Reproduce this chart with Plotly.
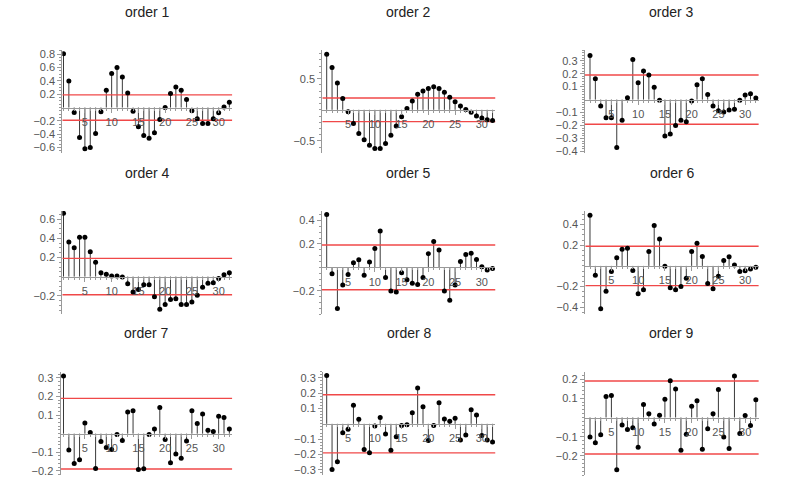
import numpy as np
import plotly.graph_objects as go

lags = list(range(1, 33))

order1 = [0.81, 0.40, -0.075, -0.45, -0.62, -0.60, -0.39, -0.065, 0.26, 0.51, 0.60, 0.46, 0.22, -0.055, -0.29, -0.42,
          -0.46, -0.38, -0.18, 0.0, 0.21, 0.31, 0.26, 0.12, -0.05, -0.17, -0.24, -0.24, -0.17, -0.08, 0.01, 0.08]
order2 = [0.89, 0.68, 0.43, 0.18, -0.03, -0.22, -0.38, -0.48, -0.57, -0.62, -0.62, -0.54, -0.41, -0.26, -0.11, 0.02,
          0.14, 0.25, 0.30, 0.34, 0.37, 0.34, 0.28, 0.20, 0.13, 0.06, 0.005, -0.04, -0.10, -0.13, -0.16, -0.17]
order3 = [0.34, 0.16, -0.05, -0.14, -0.14, -0.37, -0.16, 0.015, 0.31, 0.13, 0.22, 0.19, 0.095, -0.005, -0.28, -0.265,
          -0.20, -0.16, -0.17, -0.01, 0.115, 0.16, 0.04, -0.05, -0.085, -0.095, -0.08, -0.075, -0.005, 0.035, 0.045, 0.012]
order4 = [0.66, 0.36, 0.30, 0.41, 0.41, 0.26, 0.15, 0.04, 0.025, 0.005, 0.007, -0.003, -0.075, -0.16, -0.135, -0.085,
          -0.085, -0.21, -0.34, -0.29, -0.24, -0.23, -0.29, -0.29, -0.265, -0.195, -0.11, -0.07, -0.065, -0.02, 0.02, 0.04]
order5 = [0.45, -0.053, -0.35, -0.15, -0.06, 0.04, 0.065, -0.067, 0.047, 0.16, 0.31, -0.085, -0.20, -0.21, -0.045, -0.105,
          -0.135, -0.145, -0.085, 0.117, 0.22, 0.148, -0.20, -0.28, -0.15, 0.05, 0.11, 0.12, 0.067, 0.005, -0.022, -0.01]
order6 = [0.49, -0.09, -0.415, -0.245, -0.053, 0.08, 0.16, 0.17, -0.044, -0.27, -0.23, 0.14, 0.39, 0.26, -0.003, -0.21,
          -0.23, -0.20, -0.12, 0.14, 0.22, 0.09, -0.17, -0.22, -0.10, 0.053, 0.088, 0.01, -0.053, -0.047, -0.031, -0.012]
order7 = [0.31, -0.088, -0.16, -0.14, 0.058, 0.007, -0.187, -0.042, -0.074, -0.085, -0.004, -0.037, 0.117, 0.124, -0.193, -0.189,
          -0.005, 0.025, 0.141, -0.032, -0.157, -0.11, -0.132, -0.039, 0.124, 0.055, 0.106, 0.018, 0.012, 0.094, 0.087, 0.025]
order8 = [0.315, -0.298, -0.247, -0.058, -0.036, 0.122, 0.03, -0.167, -0.189, -0.015, 0.041, -0.067, -0.172, -0.084, -0.011, -0.006,
          0.073, 0.234, 0.112, -0.109, -0.011, 0.137, 0.032, 0.017, 0.036, -0.105, -0.073, 0.092, 0.058, -0.077, -0.105, -0.118]
order9 = [-0.102, -0.131, -0.09, 0.11, 0.114, -0.272, -0.039, -0.063, -0.053, -0.155, 0.068, 0.019, -0.034, 0.012, 0.095, 0.192,
          0.148, -0.17, -0.087, 0.058, 0.087, -0.165, -0.059, 0.02, 0.146, -0.102, -0.161, 0.216, -0.083, 0.01, -0.042, 0.092]

orders = [order1, order2, order3, order4, order5, order6, order7, order8, order9]
titles = ["order %d" % i for i in range(1, 10)]
conf_band = 0.19

x_ticks = [5, 10, 15, 20, 25, 30]
y_ticks = [
    [0.8, 0.6, 0.4, 0.2, -0.2, -0.4, -0.6],
    [0.5, -0.5],
    [0.3, 0.2, 0.1, -0.1, -0.2, -0.3, -0.4],
    [0.6, 0.4, 0.2, -0.2],
    [0.4, 0.2, -0.2],
    [0.4, 0.2, -0.2, -0.4],
    [0.3, 0.2, 0.1, -0.1, -0.2],
    [0.3, 0.2, 0.1, -0.1, -0.2, -0.3],
    [0.2, 0.1, -0.1, -0.2],
]
y_minor = [0.05, 0.1, 0.02, 0.05, 0.05, 0.05, 0.02, 0.02, 0.02]
y_ranges = [(-0.68, 0.86), (-0.69, 0.955), (-0.41, 0.38), (-0.395, 0.685), (-0.40, 0.48),
            (-0.469, 0.531), (-0.223, 0.334), (-0.335, 0.341), (-0.30, 0.239)]

# layout in pixels
W, H = 789, 488
px_per_lag = 5.35
col_lag0 = [58.15, 321.35, 584.65]
axis_px = [62.3, 322.3, 584.7, 62.3, 321.7, 585.3, 60.5, 323.0, 584.7]
row_px = [(49, 153), (212, 317), (375, 480)]
x_end = 32.55

def px_x(p):
    return p / W

def px_y(p):
    return 1 - p / H

fig = go.Figure()
layout = dict(width=W, height=H, margin=dict(l=0, r=0, t=0, b=0),
              plot_bgcolor="white", paper_bgcolor="white", showlegend=False,
              annotations=[])

tick_font = dict(family="Liberation Sans", size=11, color="#555")
axis_col = "#999"

def fmt(v):
    s = ("%g" % abs(v))
    return ("\u2212" + s) if v < 0 else s

for i, vals in enumerate(orders):
    r, c = divmod(i, 3)
    xa = "x" if i == 0 else "x%d" % (i + 1)
    ya = "y" if i == 0 else "y%d" % (i + 1)
    x0 = (axis_px[i] - col_lag0[c]) / px_per_lag
    left = px_x(axis_px[i])
    right = px_x(col_lag0[c] + x_end * px_per_lag)
    top, bot = row_px[r]
    d0, d1 = px_y(bot), px_y(top)
    ymin, ymax = y_ranges[i]
    zero_pos = d0 + (0 - ymin) / (ymax - ymin) * (d1 - d0)

    # stems
    sx, sy = [], []
    for lag, v in zip(lags, vals):
        sx += [lag, lag, None]
        sy += [0, v, None]
    fig.add_trace(go.Scatter(x=sx, y=sy, mode="lines", line=dict(color="#3a3a3a", width=1),
                             xaxis=xa, yaxis=ya, hoverinfo="skip"))
    # confidence lines
    for b in (conf_band, -conf_band):
        fig.add_trace(go.Scatter(x=[x0, x_end], y=[b, b], mode="lines",
                                 line=dict(color="#f04848", width=1.4),
                                 xaxis=xa, yaxis=ya, hoverinfo="skip"))
    fig.add_trace(go.Scatter(x=lags, y=vals, mode="markers",
                             marker=dict(color="black", size=5),
                             xaxis=xa, yaxis=ya))

    xkey = "xaxis" if i == 0 else "xaxis%d" % (i + 1)
    ykey = "yaxis" if i == 0 else "yaxis%d" % (i + 1)
    layout[xkey] = dict(domain=[left, right], range=[x0, x_end], anchor="free", position=zero_pos,
                        showgrid=False, zeroline=False, showline=True, linecolor=axis_col, linewidth=1,
                        tickmode="array", tickvals=x_ticks, ticktext=[str(t) for t in x_ticks],
                        ticks="outside", ticklen=4, tickcolor=axis_col, tickfont=tick_font,
                        minor=dict(dtick=1, tick0=0, ticks="outside", ticklen=2, tickcolor=axis_col),
                        ticklabelstandoff=0)
    layout[ykey] = dict(domain=[d0, d1], range=[ymin, ymax], anchor=xa,
                        showgrid=False, zeroline=False, showline=True, linecolor=axis_col, linewidth=1,
                        tickmode="array", tickvals=y_ticks[i], ticktext=[fmt(t) for t in y_ticks[i]],
                        ticks="outside", ticklen=4, tickcolor=axis_col, tickfont=tick_font,
                        minor=dict(dtick=y_minor[i], tick0=0, ticks="outside", ticklen=2, tickcolor=axis_col))
    layout["annotations"].append(dict(text=titles[i], x=(left + right) / 2, y=px_y(top - 39),
                                      xref="paper", yref="paper", showarrow=False,
                                      xanchor="center", yanchor="middle",
                                      font=dict(family="Liberation Sans", size=14, color="#222")))

fig.update_layout(**layout)
# drop the default page margin so the figure sits at the top-left corner
fig.write_html("out.html", config={"displayModeBar": False},
               post_script="document.body.style.margin='0px';")
